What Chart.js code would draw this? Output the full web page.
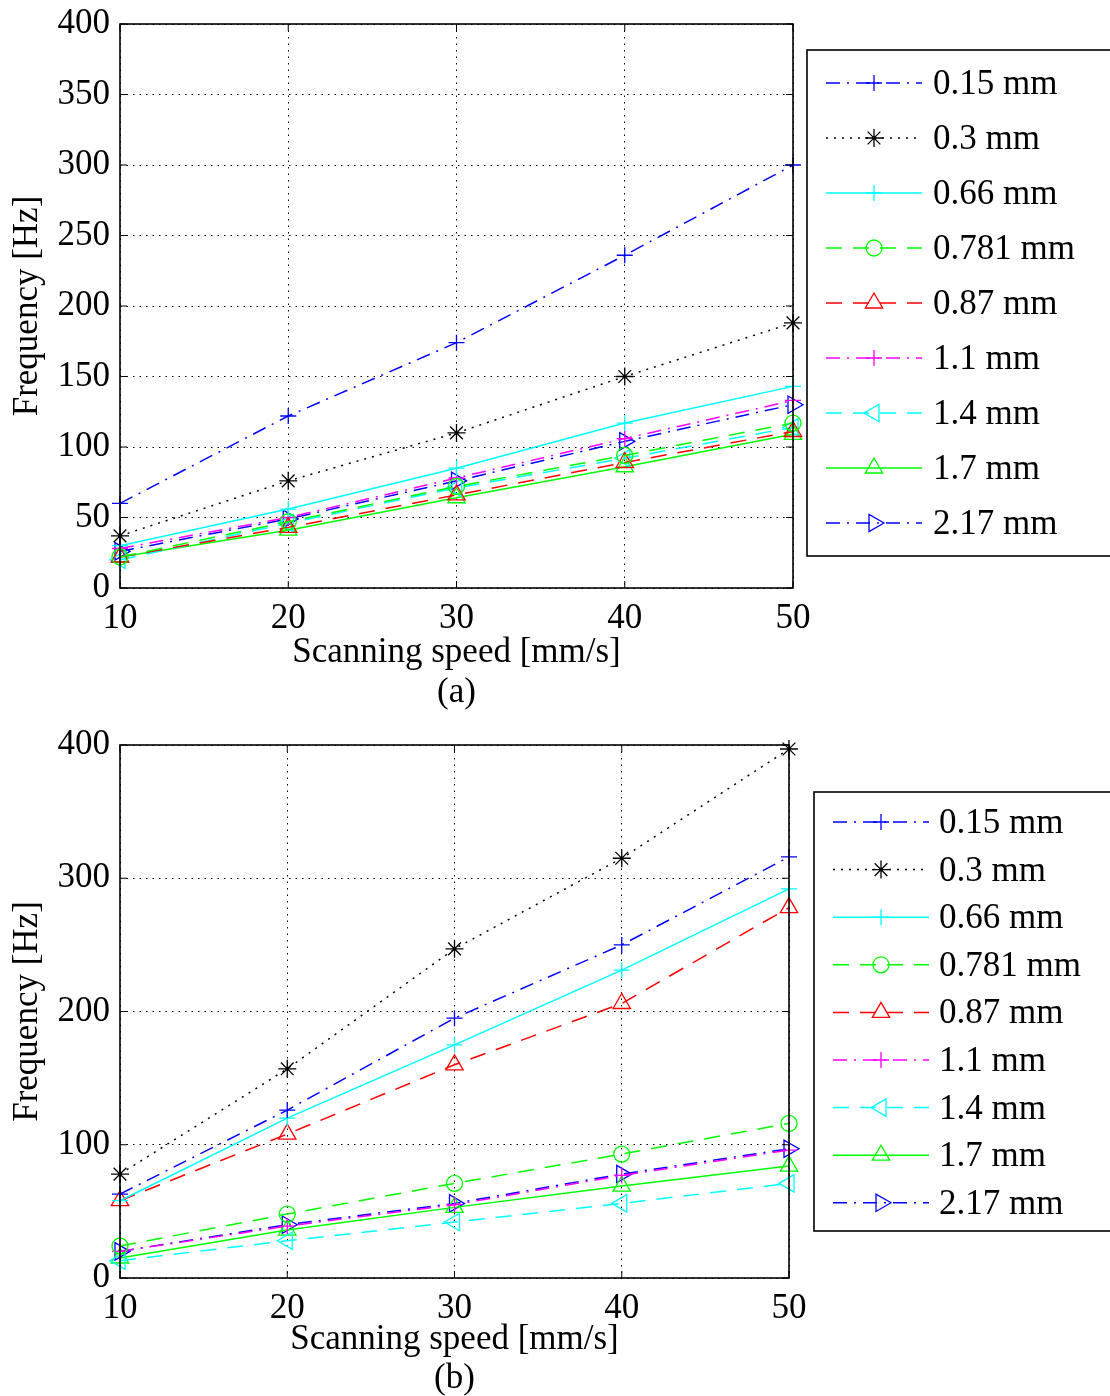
<!DOCTYPE html>
<html lang="en">
<head>
<meta charset="UTF-8">
<title>Frequency vs scanning speed</title>
<script src="https://cdn.jsdelivr.net/npm/chart.js"></script>
<style>
  body { margin: 0; background: #fff; }
  canvas { display: block; }
</style>
</head>
<body>
<canvas id="chartA" width="1110" height="712"></canvas>
<canvas id="chartB" width="1110" height="684"></canvas>
<script>
// x values (scanning speed, mm/s)
const speeds = [10, 20, 30, 40, 50];
const seriesNames = ['0.15 mm', '0.3 mm', '0.66 mm', '0.781 mm', '0.87 mm', '1.1 mm', '1.4 mm', '1.7 mm', '2.17 mm'];

// (a) frequency [Hz]
const a015 = [60, 122, 174, 236, 300];
const a030 = [37, 76, 110, 150, 188];
const a066 = [30, 56, 85, 117, 143];
const a0781 = [22, 47, 72, 94, 117];
const a087 = [22, 43, 66, 89, 111];
const a110 = [28, 50, 78, 106, 133];
const a140 = [20, 46, 71, 92, 114];
const a170 = [22, 41, 64, 86, 109];
const a217 = [26, 49, 76, 104, 130];

// (b) frequency [Hz]
const b015 = [63, 126, 195, 250, 316];
const b030 = [78, 157, 247, 315, 397];
const b066 = [58, 120, 175, 231, 292];
const b0781 = [24, 48, 71, 93, 116];
const b087 = [58, 108, 160, 206, 278];
const b110 = [20, 39, 55, 77, 96];
const b140 = [13, 28, 42, 56, 71];
const b170 = [15, 36, 53, 69, 84];
const b217 = [20, 40, 56, 78, 97];

const yTicksA = [0, 50, 100, 150, 200, 250, 300, 350, 400];
const yTicksB = [0, 100, 200, 300, 400];

// matlab-ish styles
const colors = ['#0000ff', '#000000', '#00ffff', '#00ff00', '#ff0000', '#ff00ff', '#00ffff', '#00ff00', '#0000ff'];
const dashDot = [14, 7, 2, 7];
const dashed = [16, 11];
const dotted = [2, 6];
const dashes = [dashDot, dotted, [], dashed, dashed, dashDot, dashed, [], dashDot];
const markers = ['cross', 'star', 'cross', 'circle', 'triangle', 'cross', 'triangle', 'triangle', 'triangle'];
const rotations = [0, 0, 0, 0, 0, 0, -90, 0, 90];
const radii = { cross: 8, star: 9, circle: 8, triangle: 10 };

const serif = "'Liberation Serif', 'Times New Roman', serif";
Chart.defaults.font.family = serif;
Chart.defaults.color = '#000';

function buildDatasets(values) {
    return values.map((vals, i) => ({
        label: seriesNames[i],
        data: speeds.map((s, j) => ({ x: s, y: vals[j] })),
        borderColor: colors[i],
        backgroundColor: 'rgba(0,0,0,0)',
        borderWidth: 1.5,
        borderDash: dashes[i],
        tension: 0,
        fill: false,
        clip: false,
        pointStyle: markers[i],
        pointRotation: rotations[i],
        pointRadius: radii[markers[i]],
        pointBorderWidth: 1.3,
        pointBorderColor: colors[i],
        pointBackgroundColor: 'rgba(0,0,0,0)'
    }));
}

// box round the axes + inward tick marks
const matlabFrame = {
    id: 'matlabFrame',
    afterDatasetsDraw(chart) {
        const { ctx, chartArea: a, scales: { x, y } } = chart;
        const t = 7;
        ctx.save();
        ctx.setLineDash([]);
        ctx.strokeStyle = '#000';
        ctx.lineWidth = 1;
        ctx.beginPath();
        x.ticks.forEach(tk => {
            const px = x.getPixelForValue(tk.value);
            ctx.moveTo(px, a.bottom); ctx.lineTo(px, a.bottom - t);
            ctx.moveTo(px, a.top); ctx.lineTo(px, a.top + t);
        });
        y.ticks.forEach(tk => {
            const py = y.getPixelForValue(tk.value);
            ctx.moveTo(a.left, py); ctx.lineTo(a.left + t, py);
            ctx.moveTo(a.right, py); ctx.lineTo(a.right - t, py);
        });
        ctx.stroke();
        ctx.lineWidth = 1.6;
        ctx.strokeRect(a.left, a.top, a.right - a.left, a.bottom - a.top);
        ctx.restore();
    }
};

// legend with line sample + marker, like matlab
const matlabLegend = {
    id: 'matlabLegend',
    afterDraw(chart, args, o) {
        const ctx = chart.ctx;
        ctx.save();
        ctx.fillStyle = '#fff';
        ctx.fillRect(o.left, o.top, o.width, o.height);
        ctx.strokeStyle = '#000';
        ctx.lineWidth = 1.6;
        ctx.strokeRect(o.left, o.top, o.width, o.height);
        chart.data.datasets.forEach((ds, i) => {
            const yy = o.firstRow + i * o.rowStep;
            ctx.strokeStyle = ds.borderColor;
            ctx.lineWidth = ds.borderWidth;
            ctx.setLineDash(ds.borderDash || []);
            ctx.beginPath();
            ctx.moveTo(o.lineStart, yy);
            ctx.lineTo(o.lineEnd, yy);
            ctx.stroke();
            ctx.setLineDash([]);
            ctx.fillStyle = 'rgba(0,0,0,0)';
            ctx.strokeStyle = ds.pointBorderColor;
            ctx.lineWidth = ds.pointBorderWidth;
            Chart.helpers.drawPoint(ctx, {
                pointStyle: ds.pointStyle,
                radius: ds.pointRadius,
                rotation: ds.pointRotation,
                borderWidth: ds.pointBorderWidth
            }, (o.lineStart + o.lineEnd) / 2, yy);
            ctx.fillStyle = '#000';
            ctx.font = '35px ' + serif;
            ctx.textAlign = 'left';
            ctx.textBaseline = 'alphabetic';
            ctx.fillText(ds.label, o.textX, yy + 11);
        });
        ctx.restore();
    }
};

function makeChart(id, values, yStep, cfg) {
    const fontTitle = { family: serif, size: 35, lineHeight: 1, weight: 'normal' };
    return new Chart(document.getElementById(id), {
        type: 'line',
        data: { datasets: buildDatasets(values) },
        plugins: [matlabFrame, matlabLegend],
        options: {
            responsive: false,
            animation: false,
            devicePixelRatio: 1,
            layout: { padding: { left: 0, top: cfg.padTop, right: cfg.padRight, bottom: 0 } },
            scales: {
                x: {
                    type: 'linear', min: 10, max: 50,
                    ticks: { stepSize: 10, font: { size: 35 }, color: '#000', padding: 10, maxRotation: 0 },
                    grid: { color: '#000', lineWidth: 1, drawTicks: false },
                    border: { display: false, dash: [1.5, 5] },
                    title: { display: true, text: 'Scanning speed [mm/s]', color: '#000', font: fontTitle, padding: { top: 0, bottom: cfg.xTitlePad } },
                    afterFit: s => { s.height = cfg.xAxisHeight; s.paddingLeft = 0; s.paddingRight = 0; }
                },
                y: {
                    min: 0, max: 400,
                    ticks: { stepSize: yStep, font: { size: 35 }, color: '#000', padding: 10 },
                    grid: { color: '#000', lineWidth: 1, drawTicks: false },
                    border: { display: false, dash: [1.5, 5] },
                    title: { display: true, text: 'Frequency [Hz]', color: '#000', font: fontTitle, padding: { top: 10, bottom: 0 } },
                    afterFit: s => { s.width = 120; s.paddingTop = 0; s.paddingBottom = 0; }
                }
            },
            plugins: {
                legend: { display: false },
                tooltip: { enabled: false },
                title: {
                    display: true, text: cfg.caption, position: 'bottom', color: '#000', fullSize: false,
                    font: fontTitle, padding: cfg.captionPad
                },
                matlabLegend: cfg.legend
            }
        }
    });
}

makeChart('chartA', [a015, a030, a066, a0781, a087, a110, a140, a170, a217], yTicksA[1] - yTicksA[0], {
    padTop: 24, padRight: 317, xAxisHeight: 84, xTitlePad: 2,
    caption: '(a)', captionPad: { top: 3, bottom: 2 },
    legend: { left: 807, top: 50, width: 320, height: 506, firstRow: 83, rowStep: 55, lineStart: 826, lineEnd: 922, textX: 933 }
});

makeChart('chartB', [b015, b030, b066, b0781, b087, b110, b140, b170, b217], yTicksB[1] - yTicksB[0], {
    padTop: 33, padRight: 321, xAxisHeight: 80, xTitlePad: 1,
    caption: '(b)', captionPad: { top: 3, bottom: 0 },
    legend: { left: 814, top: 80, width: 320, height: 439, firstRow: 110, rowStep: 47.6, lineStart: 833, lineEnd: 929, textX: 939 }
});
</script>
</body>
</html>
